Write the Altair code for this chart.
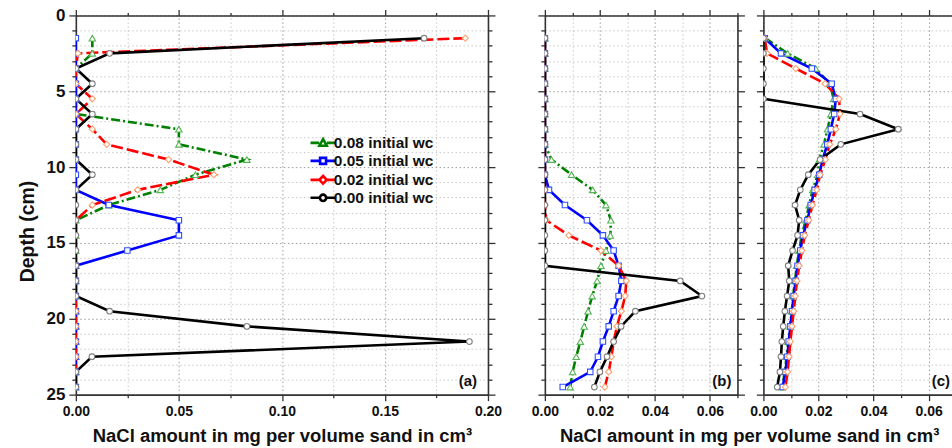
import altair as alt
import pandas as pd

FONT = "Liberation Sans"

depth = [1.5 + i for i in range(24)]
series_names = ["0.08 initial wc", "0.05 initial wc", "0.02 initial wc", "0.00 initial wc"]

# Panel (a)
a_green = [0.008, 0.008, 0, 0, 0, 0, 0.05, 0.05, 0.083, 0.058, 0.041, 0.016,
           0, 0, 0, 0, 0, 0, 0, 0, 0, 0, 0, 0]
a_blue = [0, 0, 0, 0, 0, 0, 0, 0, 0, 0, 0, 0.016,
          0.05, 0.05, 0.025, 0, 0, 0, 0, 0, 0, 0, 0, 0]
a_red = [0.189, 0.001, 0, 0, 0.008, 0, 0.008, 0.015, 0.045, 0.067, 0.030, 0.008,
         0, 0, 0, 0, 0, 0, 0, 0, 0, 0, 0, 0]
a_black = [0.169, 0.0164, 0, 0.008, 0, 0.008, 0, 0, 0, 0.008, 0, 0,
           0, 0, 0, 0, 0, 0, 0.0164, 0.083, 0.191, 0.0078, 0, 0]

# Panel (b)
b_green = [0, 0, 0, 0, 0, 0, 0, 0, 0.0024, 0.0097, 0.0174, 0.0222,
           0.0240, 0.0238, 0.0222, 0.0204, 0.0190, 0.0172, 0.0157, 0.0143, 0.0129, 0.0114, 0.0101, 0.0092]
b_blue = [0, 0, 0, 0, 0, 0, 0, 0, 0, 0, 0.0015, 0.0073,
          0.0153, 0.0211, 0.0250, 0.0268, 0.0278, 0.0268, 0.0250, 0.0232, 0.0211, 0.0193, 0.0165, 0.0065]
b_red = [0, 0, 0, 0, 0, 0, 0, 0, 0, 0, 0, 0,
         0.0005, 0.0087, 0.0204, 0.0268, 0.0296, 0.0292, 0.0278, 0.0262, 0.0250, 0.0242, 0.0232, 0.0218]
b_black = [0, 0, 0, 0, 0, 0, 0, 0, 0, 0, 0, 0,
           0, 0, 0, 0, 0.0492, 0.0571, 0.0329, 0.0277, 0.0250, 0.0226, 0.0200, 0.0180]

# Panel (c)
c_green = [0.0007, 0.0088, 0.0190, 0.0242, 0.0255, 0.0245, 0.0233, 0.0220, 0.0203, 0.0197, 0.0179, 0.0166,
           0.0154, 0.0139, 0.0130, 0.0121, 0.0115, 0.0108, 0.0103, 0.0097, 0.0090, 0.0084, 0.0078, 0.0068]
c_blue = [0.0005, 0.0064, 0.0176, 0.0248, 0.0263, 0.0257, 0.0245, 0.0232, 0.0215, 0.0203, 0.0186, 0.0172,
          0.0160, 0.0144, 0.0134, 0.0124, 0.0117, 0.0110, 0.0104, 0.0098, 0.0092, 0.0087, 0.0080, 0.0070]
c_red = [0.0005, 0.0013, 0.0118, 0.0224, 0.0275, 0.0278, 0.0263, 0.0241, 0.0225, 0.0206, 0.0194, 0.0178,
         0.0165, 0.0150, 0.0140, 0.0130, 0.0122, 0.0116, 0.0110, 0.0104, 0.0098, 0.0093, 0.0088, 0.0080]
c_black = [0, 0, 0, 0, 0, 0.0351, 0.0490, 0.0281, 0.0206, 0.0163, 0.0134, 0.0115,
           0.0130, 0.0124, 0.0106, 0.0090, 0.0094, 0.0086, 0.0078, 0.0072, 0.0067, 0.0064, 0.0060, 0.0050]

x_title = "NaCl amount in mg per volume sand in cm\u00b3"

line_colors = ["#008000", "#0000ff", "#ff0000", "#000000"]
line_dashes = [[9, 3, 2, 3], None, [12, 4], None]
marker_shapes = ["triangle-up", "square", "diamond", "circle"]
marker_strokes = ["#55b555", "#3050ff", "#ffa070", "#808080"]
marker_sizes = [42, 30, 38, 32]
legend_paths = [
    "M-3.6,0L-1.1,0M1.1,0L3.6,0M0,-1.1L1.05,0.8L-1.05,0.8Z",
    "M-3.6,0L-0.9,0M0.9,0L3.6,0M-0.85,-0.85L0.85,-0.85L0.85,0.85L-0.85,0.85Z",
    "M-3.6,0L-1.1,0M1.1,0L3.6,0M0,-1.1L1.05,0L0,1.1L-1.05,0Z",
    "M-3.6,0L-1,0M1,0L3.6,0M0.9,0A0.9,0.9 0 1,1 -0.9,0A0.9,0.9 0 1,1 0.9,0Z",
]


def frame(vals):
    rows = []
    for s, v in zip(series_names, vals):
        for d, x in zip(depth, v):
            rows.append({"series": s, "depth": d, "value": x})
    return pd.DataFrame(rows)


df_a = frame([a_green, a_blue, a_red, a_black])
df_b = frame([b_green, b_blue, b_red, b_black])
df_c = frame([c_green, c_blue, c_red, c_black])


def cond(test, major, minor):
    return {"condition": {"test": test, "value": major}, "value": minor}


Y_TEST = "datum.value % 5 == 0"
AX_COMMON = dict(domainColor="#333333", domainWidth=1.6, tickColor="#333333", tickWidth=1.3)


def panel(df, xmax, xstep, major_mult, width, letter, letter_dx,
          show_ylabels, show_xtitle, right_axis, with_legend):
    n = int(round(xmax / xstep + 1e-9))
    xvals = [round(i * xstep, 4) for i in range(n + 1)]
    xtest = f"abs(datum.value*{major_mult} - round(datum.value*{major_mult})) < 0.000001"
    yvals = list(range(26))
    xs = alt.Scale(domain=[0, xmax], nice=False, zero=False)
    ys = alt.Scale(domain=[0, 25], reverse=True, nice=False, zero=False)

    x_axis = alt.Axis(
        values=xvals, orient="bottom",
        labelExpr=f"{xtest} ? format(datum.value, '.2f') : ''",
        tickSize=cond(xtest, 6, 3), grid=True,
        gridColor=cond(xtest, "#9c9c9c", "#c9c9c9"), gridDash=[1.5, 2.5], gridWidth=1,
        labelFontSize=14, labelFontWeight="bold", labelFont=FONT, labelColor="#111111",
        labelPadding=4, labelFlush=False, labelOverlap=False,
        title=x_title if show_xtitle else None,
        titleFontSize=18.5, titleFontWeight="bold", titleFont=FONT, titleColor="#111111",
        titlePadding=8, **AX_COMMON)
    y_axis = alt.Axis(
        values=yvals, orient="left",
        labels=show_ylabels,
        labelExpr=f"{Y_TEST} ? datum.label : ''",
        tickSize=cond(Y_TEST, 7, 4), grid=True,
        gridColor=cond(Y_TEST, "#9c9c9c", "#c9c9c9"), gridDash=[1.5, 2.5], gridWidth=1,
        labelFontSize=17, labelFontWeight="bold", labelFont=FONT, labelColor="#111111",
        labelPadding=4, labelFlush=False, labelOverlap=False,
        title="Depth (cm)" if show_ylabels else None,
        titleFontSize=19.5, titleFontWeight="bold", titleFont=FONT, titleColor="#111111",
        titlePadding=9, titleY=216, **AX_COMMON)

    X = alt.X("value:Q", scale=xs, axis=x_axis)
    Y = alt.Y("depth:Q", scale=ys, axis=y_axis)

    layers = []
    for i, s in enumerate(series_names):
        sub = df[df.series == s]
        kw = dict(color=line_colors[i], strokeWidth=2.6, clip=True)
        if line_dashes[i]:
            kw["strokeDash"] = line_dashes[i]
        layers.append(alt.Chart(sub).mark_line(**kw).encode(x=X, y=Y, order=alt.Order("depth:Q")))
    for i, s in enumerate(series_names):
        sub = df[df.series == s]
        layers.append(alt.Chart(sub).mark_point(
            shape=marker_shapes[i], filled=True, fill="white", stroke=marker_strokes[i],
            strokeWidth=1.1, size=marker_sizes[i], opacity=1, clip=True).encode(x=X, y=Y))

    layers.append(alt.Chart(pd.DataFrame({"t": [letter]})).mark_text(
        font=FONT, fontSize=15, fontWeight="bold", align="right", baseline="bottom", color="#111111"
    ).encode(text="t:N", x=alt.value(width - letter_dx), y=alt.value(380 - 6)))

    if with_legend:
        leg = alt.Legend(
            title=None, orient="none", legendX=240, legendY=120, padding=0,
            symbolSize=49, symbolStrokeWidth=2.6, symbolOpacity=1,
            labelFont=FONT, labelFontSize=15.5, labelFontWeight="bold", labelColor="#111111",
            labelOffset=3, rowPadding=0, symbolFillColor="transparent")
        layers.append(alt.Chart(df).transform_filter("false").mark_point(
            filled=False, opacity=1, strokeWidth=2.6).encode(
            color=alt.Color("series:N", scale=alt.Scale(domain=series_names, range=line_colors), legend=leg),
            shape=alt.Shape("series:N", scale=alt.Scale(domain=series_names, range=legend_paths), legend=leg),
        ))

    inner = alt.layer(*layers)

    top_axis = alt.Axis(orient="top", values=xvals, labels=False, grid=False, title=None,
                        tickSize=cond(xtest, 6, 3), **AX_COMMON)
    if right_axis:
        right = alt.Axis(orient="right", values=yvals, labels=False, grid=False, title=None,
                         tickSize=cond(Y_TEST, 7, 4), **AX_COMMON)
        yenc = alt.Y("depth:Q", scale=ys, axis=right)
    else:
        yenc = alt.Y("depth:Q", scale=ys, axis=None)
    axl = alt.Chart(df).mark_point(opacity=0).encode(
        x=alt.X("value:Q", scale=xs, axis=top_axis), y=yenc)

    return alt.layer(inner, axl).resolve_scale(x="independent", y="independent").properties(
        width=width, height=380)


pa = panel(df_a, 0.2, 0.025, 20, 413, "(a)", 11, True, True, True, True)
pb = panel(df_b, 0.07, 0.01, 50, 193, "(b)", 6, False, False, True, False)
pc = panel(df_c, 0.0685, 0.01, 50, 189, "(c)", 2, False, False, False, False)

right_pair = alt.hconcat(pb, pc, spacing=26, bounds="flush").properties(
    title=alt.TitleParams(text=x_title, orient="bottom", anchor="middle", font=FONT,
                          fontSize=18.5, fontWeight="bold", color="#111111", offset=8, dx=8))

chart = alt.hconcat(pa, right_pair, spacing=57, bounds="flush").properties(
    padding={"left": 17, "top": 6, "right": 0, "bottom": 0},
    background="white",
).configure_view(stroke=None)

chart.save("out.html", embed_options={"renderer": "svg", "actions": False})
